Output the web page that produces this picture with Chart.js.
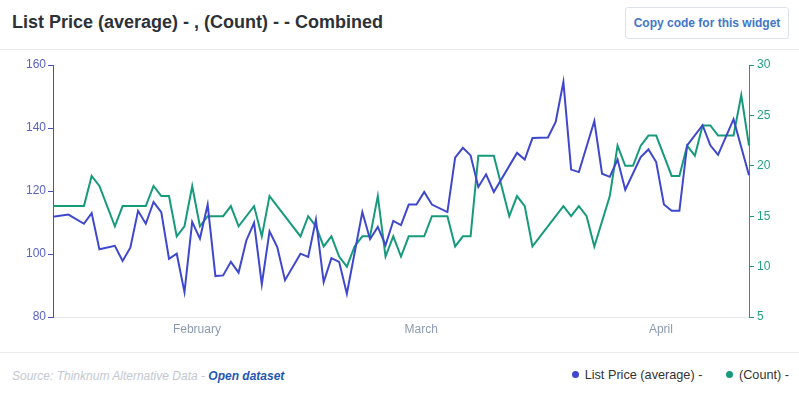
<!DOCTYPE html>
<html>
<head>
<meta charset="utf-8">
<script src="https://cdn.jsdelivr.net/npm/chart.js@4.4.1/dist/chart.umd.min.js"></script>
<style>
  body { margin: 0; background: #fff; font-family: "Liberation Sans", Arial, sans-serif; }
  #page { position: relative; width: 799px; height: 395px; overflow: hidden; }
  #header { position: absolute; left: 0; top: 0; width: 799px; height: 49px; border-bottom: 1px solid #ececec; }
  #title { position: absolute; left: 12px; top: 12px; font-size: 18px; font-weight: bold; color: #2d3138; white-space: nowrap; }
  #copyBtn { position: absolute; left: 625px; top: 7px; width: 162px; height: 30px; border: 1px solid #dde2ea; border-radius: 3px;
    font-size: 12px; font-weight: bold; color: #3f76cc; text-align: center; line-height: 30px; }
  #chartBox { position: absolute; left: 0; top: 50px; width: 799px; height: 301px; }
  #footer { position: absolute; left: 0; top: 352px; width: 799px; height: 43px; border-top: 1px solid #ececec; }
  #source { position: absolute; left: 12px; top: 16px; font-size: 12px; font-style: italic; color: #c3c8d0; white-space: nowrap; }
  #source b { color: #1f58b4; }
  #legend { position: absolute; right: 10px; top: 15px; font-size: 12.7px; color: #333; white-space: nowrap; }
  .dot { display: inline-block; width: 7px; height: 7px; border-radius: 50%; margin-right: 6px; vertical-align: 1px; }
</style>
</head>
<body>
<div id="page">
  <div id="header">
    <div id="title">List Price (average) - , (Count) - - Combined</div>
    <div id="copyBtn">Copy code for this widget</div>
  </div>
  <div id="chartBox"><canvas id="comboChart"></canvas></div>
  <div id="footer">
    <div id="source">Source: Thinknum Alternative Data - <b>Open dataset</b></div>
    <div id="legend">
      <span class="dot" style="background:#3f48cc"></span>List Price (average) -
      <span class="dot" style="background:#179a7c; margin-left:20px"></span>(Count) -
    </div>
  </div>
</div>

<script>
// first day shown on the x axis, one category per day
const startDate = "2020-01-13";
const dayCount = 91;
const monthNames = ["January", "February", "March", "April", "May"];

// List Price (average) - left axis
const listPrice = [
  111.8, null, 112.5, null, 109.6, 113.0, 101.5, null, 102.6, 97.8,
  102.0, 113.7, 109.6, 116.5, 113.3, 98.5, 100.1, 87.9, 110.2, 104.9,
  115.7, 93.0, 93.2, 97.5, 94.1, 104.3, 109.9, 90.4, 107.2, 102.2,
  91.7, null, 100.1, 99.1, 110.9, 91.1, 98.7, 97.5, 87.4, null,
  113.3, 104.7, 108.6, 102.8, 110.5, 109.2, 115.7, 115.7, 119.7, 115.7,
  null, 113.3, 130.6, 133.7, 131.3, 121.3, 125.3, 119.7, null, null,
  132.1, 130.0, 136.8, null, 137.0, 141.9, 154.6, 126.8, 126.0, null,
  142.2, 125.5, 124.5, 130.0, 120.4, null, 130.8, 133.2, 129.2, 115.7,
  113.7, 113.7, 134.5, null, 140.9, 134.5, 131.5, null, 142.8, null,
  125.0
];

// (Count) - right axis
const countValues = [
  16, null, null, null, 16, 19, 18, null, 14, 16,
  16, 16, 16, 18, 17, 17, 13, 14, 18, 14,
  15, 15, 15, 16, 14, null, 16, 13, 17, null,
  null, null, 13, 15, 14, 12, 13, 11, 10, 12,
  13, 13, 17, 11, 13, 11, 13, 13, 13, 15,
  15, 15, 12, 13, 13, 21, 21, 21, null, 15,
  17, 16, 12, null, null, null, 16, 15, 16, 15,
  12, null, 17, 22, 20, 20, 22, 23, 23, 21,
  19, 19, 22, 21, 24, 24, 23, 23, 23, 27,
  22
];

const priceTicks = [80, 100, 120, 140, 160];
const countTicks = [5, 10, 15, 20, 25, 30];

const blue = "#3f48cc";
const green = "#179a7c";

const labels = [];
const d0 = new Date(startDate + "T00:00:00");
for (let i = 0; i < dayCount; i++) {
  const d = new Date(d0);
  d.setDate(d0.getDate() + i);
  labels.push(d);
}

const ctx = document.getElementById("comboChart").getContext("2d");
new Chart(ctx, {
  type: "line",
  data: {
    labels: labels,
    datasets: [
      { label: "List Price (average) -", data: listPrice, yAxisID: "yPrice",
        borderColor: blue, backgroundColor: blue, borderWidth: 2 },
      { label: "(Count) -", data: countValues, yAxisID: "yCount",
        borderColor: green, backgroundColor: green, borderWidth: 2 }
    ]
  },
  options: {
    responsive: true,
    maintainAspectRatio: false,
    animation: false,
    spanGaps: true,
    elements: { point: { radius: 0 }, line: { tension: 0 } },
    layout: { padding: { top: 15, left: 0, right: 0, bottom: 0 } },
    plugins: { legend: { display: false }, tooltip: { enabled: false } },
    scales: {
      x: {
        offset: false,
        grid: { display: false, drawTicks: false, tickLength: 0 },
        border: { display: true, color: "#e6e8ec", width: 1 },
        ticks: {
          autoSkip: false,
          maxRotation: 0,
          padding: 5,
          labelOffset: -3,
          color: "#8d9bb0",
          font: { family: "Liberation Sans", size: 12 },
          callback: function (val, i) {
            const d = labels[i];
            return d.getDate() === 1 ? monthNames[d.getMonth()] : "";
          }
        },
        afterFit: function (scale) { scale.height = 34; }
      },
      yPrice: {
        position: "left",
        min: 80, max: 160,
        afterBuildTicks: function (scale) { scale.ticks = priceTicks.map(v => ({ value: v })); },
        grid: { drawOnChartArea: false, tickLength: 5, tickColor: "#4a50b8" },
        border: { color: "#4a50b8", width: 1 },
        ticks: { padding: 2, color: "#5b63c4", font: { family: "Liberation Sans", size: 12 } },
        afterFit: function (scale) { scale.width = 53; }
      },
      yCount: {
        position: "right",
        min: 5, max: 30,
        afterBuildTicks: function (scale) { scale.ticks = countTicks.map(v => ({ value: v })); },
        grid: { drawOnChartArea: false, tickLength: 5, tickColor: "#1a9a7e" },
        border: { color: "#1a9a7e", width: 1 },
        ticks: { padding: 3, color: "#24a086", font: { family: "Liberation Sans", size: 12 } },
        afterFit: function (scale) { scale.width = 50; }
      }
    }
  }
});
</script>
</body>
</html>
